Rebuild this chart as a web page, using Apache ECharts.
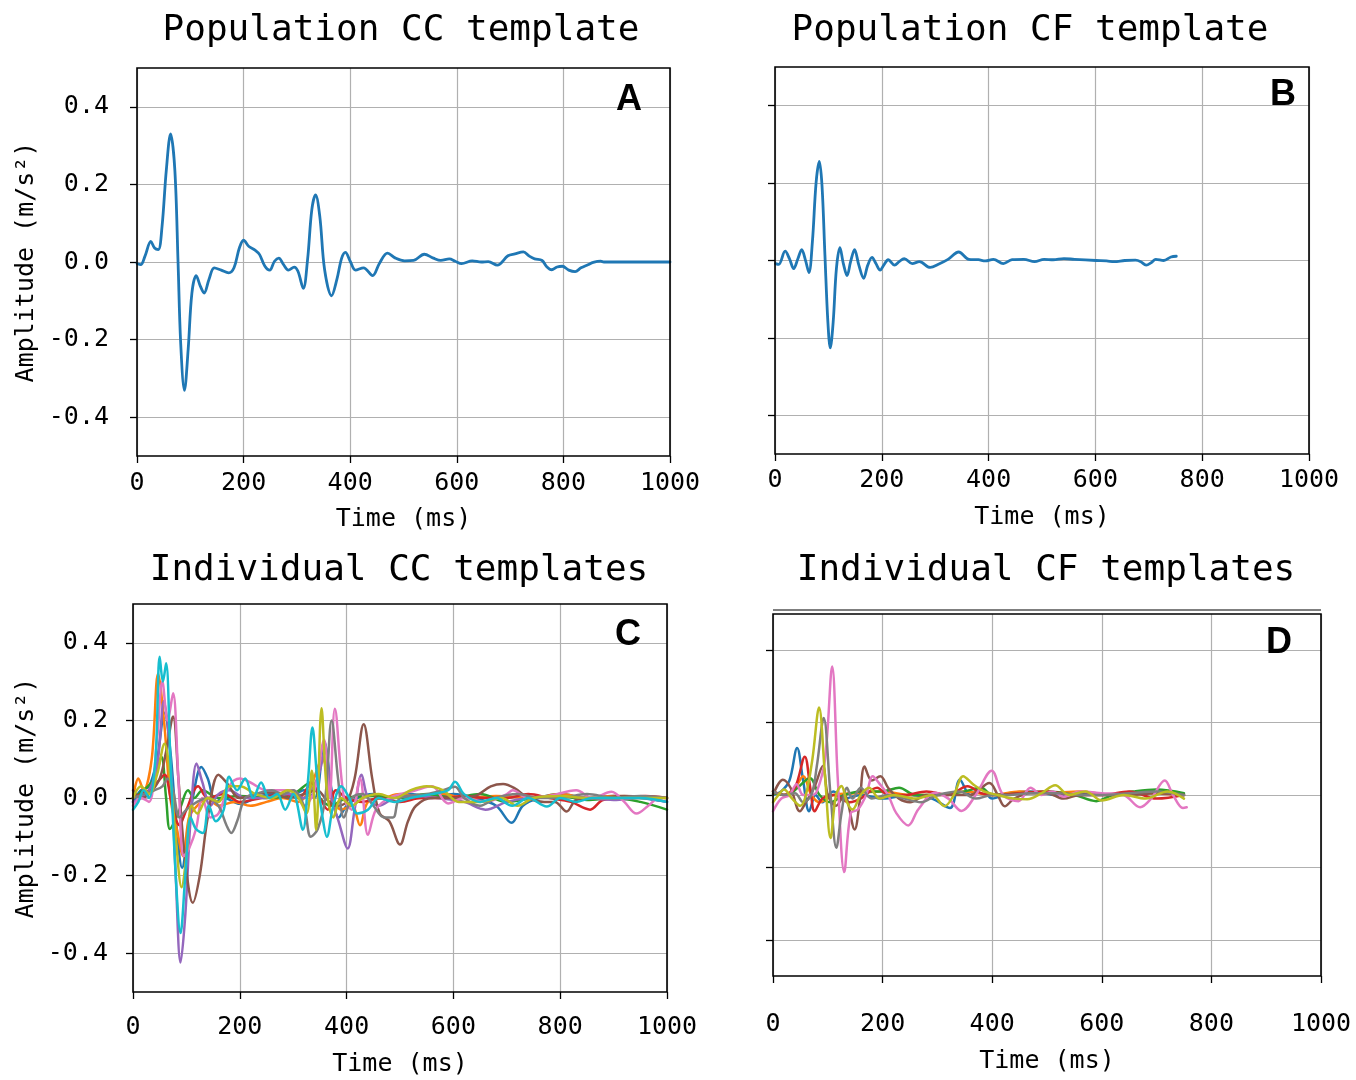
<!DOCTYPE html>
<html><head><meta charset="utf-8">
<script src="https://cdn.jsdelivr.net/npm/echarts@6/dist/echarts.min.js"></script>
<style>html,body{margin:0;padding:0;background:#fff}#c{width:1356px;height:1080px}</style>
</head><body><div id="c"></div>
<script>
// ---------- data ----------
const xTickValues = [0, 200, 400, 600, 800, 1000];
const yTickValues = [-0.4, -0.2, 0, 0.2, 0.4];
const panelTitles = ['Population CC template', 'Population CF template', 'Individual CC templates', 'Individual CF templates'];
const panelLetters = ['A', 'B', 'C', 'D'];
const xName = 'Time (ms)';
const yName = 'Amplitude (m/s\u00B2)';
const tab10 = ['#1f77b4','#ff7f0e','#2ca02c','#d62728','#9467bd','#8c564b','#e377c2','#7f7f7f','#bcbd22','#17becf'];

// Panel A: population CC template [time ms, amplitude]
const ccPop = [[0,-0.004],[7,-0.007],[15,0.015],[26,0.053],[33,0.036],[40,0.032],[47,0.092],[55,0.237],[63,0.33],[71,0.237],[77,0.0],[82,-0.21],[89,-0.331],[96,-0.225],[103,-0.08],[111,-0.035],[119,-0.063],[126,-0.08],[135,-0.045],[145,-0.015],[158,-0.021],[172,-0.028],[182,-0.015],[192,0.036],[200,0.056],[210,0.040],[222,0.030],[230,0.019],[240,-0.011],[249,-0.021],[258,0.002],[266,0.010],[275,-0.007],[284,-0.021],[295,-0.013],[302,-0.024],[312,-0.068],[320,0.006],[328,0.135],[335,0.173],[343,0.117],[352,-0.02],[365,-0.087],[375,-0.045],[384,0.010],[391,0.025],[400,0.002],[410,-0.021],[425,-0.015],[442,-0.035],[455,-0.003],[470,0.023],[485,0.01],[502,0.003],[519,0.004],[539,0.020],[556,0.010],[570,0.004],[586,0.008],[597,0.002],[609,-0.004],[629,0.003],[646,0.0],[659,0.001],[676,-0.008],[696,0.016],[709,0.021],[725,0.026],[736,0.015],[746,0.008],[760,0.004],[768,-0.011],[778,-0.020],[788,-0.013],[798,-0.011],[810,-0.021],[822,-0.025],[833,-0.015],[846,-0.007],[856,-0.001],[870,0.002],[876,0.0],[1000,0.0]];

// Panel B: population CF template
const cfPop = [[1,-0.008],[7,-0.010],[19,0.024],[27,0.005],[35,-0.021],[43,0.005],[50,0.028],[57,0.001],[63.5,-0.031],[70,0.048],[77,0.202],[83,0.256],[88,0.194],[93.5,0.014],[99,-0.158],[103.5,-0.226],[109,-0.158],[115,-0.021],[121.6,0.033],[128,-0.008],[135,-0.039],[141.6,-0.003],[149,0.028],[157,-0.012],[166,-0.046],[173.7,-0.012],[181.7,0.008],[189,-0.008],[197,-0.025],[203.7,-0.012],[212,0.002],[224,-0.012],[232.5,-0.003],[242,0.005],[257,-0.008],[270.5,-0.003],[290.6,-0.018],[307,-0.009],[324,0.003],[344,0.022],[363,0.003],[381,0.002],[394,-0.001],[409,0.003],[427.5,-0.008],[444,0.002],[466,0.003],[486,-0.003],[504,0.003],[521,0.002],[541,0.005],[561,0.003],[601,0.0],[621,-0.001],[635,-0.003],[655,0.0],[675,0.001],[685,-0.003],[695,-0.012],[705,-0.005],[713,0.003],[728,0.0],[741.5,0.009],[751.5,0.011]];

// Panel C: individual CC templates
const ccBlue = [[0,-0.01],[15,0.02],[30,0.03],[45,0.1],[59,0.22],[70,0.12],[82,-0.08],[92,-0.18],[102,-0.1],[112,0.0],[128,0.08],[140,0.05],[155,-0.01],[170,0.0],[200,-0.015],[230,0.0],[260,0.01],[290,0.0],[320,0.02],[340,0.0],[358,0.145],[372,0.02],[385,-0.05],[400,-0.02],[420,0.0],[450,0.01],[480,0.0],[520,0.01],[560,0.0],[600,0.01],[640,0.0],[680,-0.02],[709,-0.064],[730,-0.02],[760,0.0],[800,0.01],[850,0.0],[900,0.005],[950,0.0],[1000,-0.01]];
const ccOrange = [[0,0.0],[10,0.05],[20,0.02],[35,0.1],[47,0.32],[58,0.2],[70,0.0],[82,-0.08],[94,-0.15],[105,-0.05],[120,-0.02],[140,0.0],[160,-0.02],[190,-0.01],[220,-0.02],[250,-0.01],[280,0.0],[310,-0.01],[330,0.02],[355,0.1],[370,0.02],[390,-0.03],[410,-0.02],[425,-0.07],[440,-0.01],[470,0.0],[500,0.01],[540,0.0],[580,0.01],[620,0.0],[680,0.005],[750,0.0],[800,0.01],[850,0.0],[900,0.005],[1000,0.0]];
const ccGreen = [[0,0.0],[20,0.02],[40,0.05],[53,0.106],[62,0.0],[69,-0.08],[78,-0.06],[90,-0.02],[103,0.02],[115,0.0],[130,0.02],[160,0.0],[200,0.005],[250,0.0],[300,0.01],[333,0.04],[350,0.0],[370,-0.02],[400,0.0],[450,0.005],[500,0.0],[550,0.01],[600,0.0],[650,0.01],[700,-0.01],[750,0.0],[800,0.005],[850,-0.005],[900,0.0],[950,-0.01],[1000,-0.03]];
const ccRed = [[0,0.0],[15,0.01],[30,0.02],[45,0.04],[59,0.06],[72,-0.01],[87,-0.07],[100,-0.03],[122,0.03],[140,0.0],[170,0.01],[200,-0.01],[240,0.0],[280,0.01],[310,0.0],[335,0.04],[350,0.0],[365,-0.03],[380,0.02],[400,0.0],[430,-0.01],[460,0.0],[500,-0.01],[540,0.0],[580,0.0],[620,0.005],[660,0.0],[700,0.0],[740,0.01],[780,0.0],[820,-0.01],[856,-0.03],[880,-0.005],[920,0.0],[960,0.005],[1000,0.0]];
const ccPurple = [[0,-0.01],[15,0.0],[30,0.02],[45,0.08],[58,0.25],[70,0.1],[80,-0.2],[89,-0.424],[98,-0.3],[108,-0.05],[119,0.089],[130,0.04],[145,-0.02],[160,0.01],[180,0.02],[210,0.0],[250,0.0],[290,0.01],[320,0.0],[345,0.05],[360,0.12],[372,0.0],[385,-0.06],[402,-0.13],[415,-0.03],[428,0.06],[440,0.0],[460,-0.02],[490,0.0],[530,0.005],[570,0.0],[620,-0.01],[660,-0.03],[700,-0.01],[740,0.0],[800,0.005],[850,0.0],[900,-0.005],[950,0.0],[1000,-0.01]];
const ccBrown = [[0,0.02],[15,0.0],[30,0.01],[50,0.05],[62,0.12],[75,0.21],[85,0.05],[97,-0.15],[112,-0.27],[125,-0.2],[140,-0.05],[160,0.06],[175,0.04],[200,0.0],[230,0.01],[260,0.015],[290,0.0],[320,0.01],[345,0.02],[360,0.0],[380,-0.02],[400,-0.01],[415,0.05],[432,0.19],[448,0.05],[462,-0.04],[480,-0.06],[500,-0.12],[515,-0.06],[530,-0.02],[560,0.0],[600,0.0],[640,0.005],[670,0.03],[693,0.036],[715,0.025],[740,0.0],[770,-0.01],[790,-0.01],[812,-0.035],[830,-0.005],[870,0.0],[920,0.005],[1000,0.0]];
const ccPink = [[0,-0.02],[15,0.0],[30,-0.01],[45,0.15],[55,0.3],[65,0.2],[75,0.27],[85,0.05],[95,-0.15],[105,-0.13],[118,-0.08],[130,0.0],[145,-0.05],[160,-0.04],[180,0.03],[200,0.05],[220,0.04],[250,0.02],[280,0.02],[300,0.02],[320,-0.02],[340,0.02],[358,0.15],[368,0.0],[378,0.23],[395,0.0],[410,-0.03],[425,0.05],[440,-0.095],[455,-0.03],[480,0.0],[530,0.02],[560,0.03],[590,-0.014],[620,0.0],[660,-0.01],[700,0.01],[711,0.02],[740,0.0],[780,0.005],[830,0.02],[860,0.0],[896,0.016],[920,-0.01],[943,-0.04],[965,-0.02],[985,0.0],[1000,0.0]];
const ccGray = [[0,0.0],[20,0.01],[40,0.02],[55,0.03],[65,0.05],[75,0.02],[87,-0.05],[100,-0.03],[120,-0.01],[140,0.0],[160,-0.02],[175,-0.07],[184,-0.09],[195,-0.06],[210,0.0],[230,0.01],[260,0.02],[280,0.01],[300,0.02],[320,-0.02],[333,-0.1],[346,-0.08],[360,0.0],[372,0.2],[384,0.05],[395,-0.05],[410,0.0],[430,0.01],[450,-0.02],[470,-0.05],[487,-0.05],[500,0.0],[550,0.01],[580,0.02],[603,0.029],[620,0.0],[650,-0.02],[680,0.0],[720,0.01],[760,0.0],[800,0.0],[850,0.01],[900,0.0],[950,0.005],[1000,0.0]];
const ccOlive = [[0,0.0],[15,0.03],[30,0.01],[45,0.06],[59,0.14],[70,0.05],[80,-0.1],[91,-0.23],[100,-0.15],[110,-0.02],[120,-0.04],[140,0.0],[160,-0.01],[180,0.03],[200,0.03],[230,0.01],[260,0.0],[290,0.02],[310,0.0],[325,-0.04],[335,0.07],[343,-0.082],[353,0.231],[363,0.02],[375,-0.05],[390,0.0],[410,-0.02],[430,0.0],[460,0.01],[490,0.0],[520,0.02],[550,0.03],[580,0.02],[610,-0.01],[650,-0.01],[690,0.0],[720,-0.02],[750,0.0],[800,0.005],[850,0.0],[900,0.0],[950,0.0],[1000,0.0]];
const ccCyan = [[0,-0.03],[10,-0.01],[20,0.02],[30,0.0],[42,0.1],[50,0.364],[56,0.3],[62,0.347],[70,0.1],[80,-0.2],[89,-0.348],[98,-0.2],[108,-0.05],[118,-0.08],[131,-0.09],[142,-0.02],[155,-0.06],[170,-0.03],[180,0.055],[195,0.02],[210,0.05],[225,0.0],[240,0.04],[255,0.0],[270,0.01],[285,-0.03],[300,0.01],[318,-0.082],[328,0.05],[336,0.182],[345,0.05],[355,-0.05],[363,-0.1],[375,-0.02],[390,0.03],[405,0.0],[420,-0.04],[440,-0.03],[460,0.0],[490,-0.01],[520,0.0],[560,0.01],[590,0.02],[603,0.042],[620,0.01],[650,-0.01],[680,0.0],[710,-0.02],[740,0.0],[775,-0.022],[800,0.0],[830,-0.01],[860,0.0],[900,0.0],[950,0.0],[1000,-0.01]];

// Panel D: individual CF templates
const cfBlue = [[0,0.0],[15,0.01],[30,0.04],[44,0.13],[55,0.04],[66,-0.045],[78,0.0],[90,-0.02],[110,0.01],[130,-0.01],[160,0.0],[200,-0.01],[250,0.0],[290,-0.01],[323,-0.036],[341,0.042],[360,0.0],[380,0.02],[400,-0.01],[430,0.005],[470,0.01],[520,0.0],[570,0.005],[620,0.0],[680,0.01],[750,0.0]];
const cfOrange = [[0,0.01],[20,0.0],[40,0.02],[55,0.052],[70,0.0],[85,-0.02],[110,0.0],[150,0.005],[200,0.01],[250,0.0],[300,0.0],[350,0.01],[400,0.0],[450,0.01],[500,0.005],[560,0.01],[620,0.0],[680,0.005],[750,0.0]];
const cfGreen = [[0,0.005],[25,0.0],[45,0.02],[67,0.047],[85,0.0],[105,-0.02],[130,0.0],[160,0.01],[200,0.01],[230,0.02],[260,0.0],[300,0.0],[350,0.01],[380,0.02],[400,0.0],[450,0.005],[500,0.01],[550,0.0],[590,-0.017],[620,0.0],[660,0.01],[700,0.015],[750,0.005]];
const cfRed = [[0,0.01],[20,0.0],[40,0.02],[58,0.106],[68,0.02],[76,-0.045],[90,-0.01],[110,0.0],[140,-0.02],[160,-0.01],[190,0.02],[210,0.0],[240,0.0],[280,0.01],[320,0.0],[355,0.024],[380,0.005],[410,0.0],[450,0.005],[500,0.01],[550,0.0],[600,0.0],[650,0.01],[700,-0.01],[750,0.0]];
const cfBrown = [[0,0.0],[18,0.042],[32,0.02],[49,-0.045],[60,-0.02],[75,0.02],[91,0.08],[100,0.0],[115,-0.03],[130,0.0],[149,-0.095],[158,-0.02],[167,0.079],[180,0.04],[196,0.052],[210,0.02],[230,-0.01],[250,-0.02],[280,0.0],[320,0.0],[360,0.0],[395,0.033],[410,0.0],[423,-0.031],[440,-0.01],[470,0.005],[500,0.005],[530,-0.01],[560,0.0],[600,0.0],[650,0.0],[700,0.005],[750,0.0]];
const cfPink = [[0,-0.045],[15,-0.01],[30,0.0],[43,0.03],[55,0.0],[70,0.0],[80,0.01],[95,0.1],[108,0.355],[118,0.05],[130,-0.213],[142,-0.05],[155,-0.04],[170,0.0],[182,0.052],[195,0.03],[210,0.0],[225,-0.05],[247,-0.084],[265,-0.04],[296,0.006],[320,-0.01],[344,-0.044],[370,0.0],[399,0.067],[420,0.0],[448,-0.017],[470,0.02],[490,0.0],[510,0.01],[530,-0.005],[560,0.01],[600,0.005],[640,0.0],[670,-0.034],[690,-0.01],[715,0.04],[730,0.0],[748,-0.036],[755,-0.034]];
const cfGray = [[0,0.01],[20,0.0],[40,0.005],[55,-0.02],[70,0.0],[80,0.08],[92.5,0.213],[105,0.0],[115.6,-0.146],[125,-0.05],[135,0.02],[145,-0.01],[160,0.02],[180,-0.01],[210,0.0],[240,-0.01],[270,-0.02],[300,0.0],[340,0.01],[370,-0.01],[400,0.0],[430,0.0],[470,0.005],[520,0.005],[560,0.0],[600,0.0],[650,0.005],[700,0.01],[750,0.0]];
const cfOlive = [[0,-0.02],[10,0.0],[20,0.015],[35,-0.01],[50,-0.03],[60,0.0],[72,0.1],[84,0.242],[95,0.05],[105,-0.119],[115,0.0],[125,0.025],[135,-0.02],[145,-0.04],[160,0.0],[175,0.02],[195,-0.01],[220,0.0],[260,-0.01],[290,0.0],[313,-0.031],[330,0.0],[347,0.052],[365,0.03],[385,0.01],[410,0.0],[440,-0.01],[464,-0.012],[490,0.005],[515,0.027],[540,0.0],[570,0.01],[600,-0.015],[640,0.0],[680,-0.01],[720,0.01],[750,-0.01]];

// ---------- layout ----------
const MONO = 'DejaVu Sans Mono';
const grids = [
  {left:137, top:68,  width:533, height:388},
  {left:775, top:67,  width:534, height:387},
  {left:133, top:604, width:534, height:388},
  {left:773, top:614, width:548, height:362}
];
const xLabelMargin = [15, 14, 23, 36];
const xNameGap = [51, 51, 60, 73];
const yLabelMargin = [28, 28, 25, 25];
const yNameGap = [98, 98, 94, 94];
const showYLabels = [true, false, true, false];
const titlePos = [[401,31],[1030,31],[399,571],[1046,571]];
const letterPos = [[629,100],[1283,95],[628,635],[1279,643]];

const fmt = v => (Math.abs(v) < 1e-9 ? 0 : v).toFixed(1);

const xAxes = grids.map((g,i) => ({
  gridIndex:i, type:'value', min:0, max:1000, interval:200,
  axisLine:{show:false, onZero:false},
  axisTick:{show:true, inside:false, length:7, lineStyle:{color:'#000', width:1.3}},
  axisLabel:{show:true, margin:xLabelMargin[i], color:'#000', fontFamily:MONO, fontSize:25, formatter: v => String(v)},
  splitLine:{show:true, lineStyle:{color:'#b0b0b0', width:1.2}},
  name:xName, nameLocation:'middle', nameGap:xNameGap[i],
  nameTextStyle:{color:'#000', fontFamily:MONO, fontSize:25}
}));
const yAxes = grids.map((g,i) => ({
  gridIndex:i, type:'value', min:-0.5, max:0.5, splitNumber:5,
  axisLine:{show:false, onZero:false},
  axisTick:{show:true, inside:false, length:7, customValues:yTickValues, lineStyle:{color:'#000', width:1.3}},
  axisLabel:{show:showYLabels[i], customValues:yTickValues, margin:yLabelMargin[i], color:'#000', fontFamily:MONO, fontSize:25, formatter:fmt},
  splitLine:{show:true, lineStyle:{color:'#b0b0b0', width:1.2}},
  name: showYLabels[i] ? yName : '', nameLocation:'middle', nameGap:yNameGap[i],
  nameTextStyle:{color:'#000', fontFamily:MONO, fontSize:25}
}));

const panelSeries = [
  [[ccPop, tab10[0]]],
  [[cfPop, tab10[0]]],
  [[ccBlue,tab10[0]],[ccOrange,tab10[1]],[ccGreen,tab10[2]],[ccRed,tab10[3]],[ccPurple,tab10[4]],[ccBrown,tab10[5]],[ccPink,tab10[6]],[ccGray,tab10[7]],[ccOlive,tab10[8]],[ccCyan,tab10[9]]],
  [[cfBlue,tab10[0]],[cfOrange,tab10[1]],[cfGreen,tab10[2]],[cfRed,tab10[3]],[cfBrown,tab10[5]],[cfPink,tab10[6]],[cfGray,tab10[7]],[cfOlive,tab10[8]]]
];
const series = [];
panelSeries.forEach((list, i) => {
  list.forEach(([data, color]) => {
    series.push({
      type:'line', xAxisIndex:i, yAxisIndex:i, data:data, showSymbol:false, smooth:0.35,
      lineStyle:{color:color, width: i < 2 ? 2.8 : 2.5, cap:'round', join:'round'}, itemStyle:{color:color},
      silent:true, animation:false, clip:true
    });
  });
});

const graphics = [];
panelTitles.forEach((t,i) => graphics.push({
  type:'text', x:titlePos[i][0], y:titlePos[i][1], silent:true,
  style:{text:t, fill:'#000', font:'36px "DejaVu Sans Mono"', textAlign:'center', textVerticalAlign:'middle'}
}));
panelLetters.forEach((t,i) => graphics.push({
  type:'text', x:letterPos[i][0], y:letterPos[i][1], silent:true, z:20,
  style:{text:t, fill:'#000', font:'bold 36px "Liberation Sans"', textAlign:'center', textVerticalAlign:'middle'}
}));
// extra thin frame line above panel D (as in the source figure)
graphics.push({type:'line', silent:true, z:20, shape:{x1:773, y1:610, x2:1321, y2:610}, style:{stroke:'#000', lineWidth:1.2}});

const option = {
  backgroundColor:'#fff',
  animation:false,
  grid: grids.map(g => Object.assign({show:true, z:10, backgroundColor:'transparent', borderColor:'#000', borderWidth:1.6, containLabel:false}, g)),
  xAxis: xAxes,
  yAxis: yAxes,
  series: series,
  graphic: graphics
};
const chart = echarts.init(document.getElementById('c'), null, {renderer:'canvas'});
chart.setOption(option);
</script></body></html>
